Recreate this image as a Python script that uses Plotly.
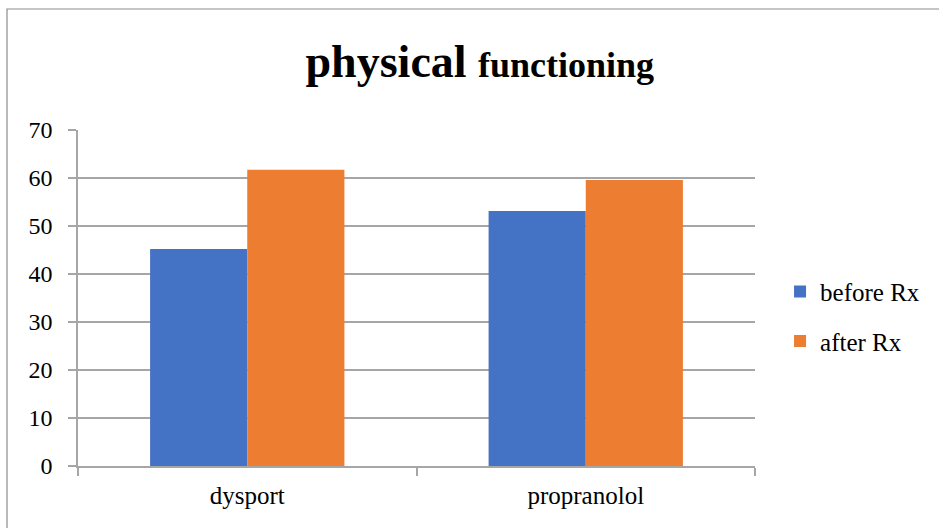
import plotly.graph_objects as go

categories = ["dysport", "propranolol"]
before_rx = [45.2, 53.1]
after_rx = [61.7, 59.6]
y_ticks = [0, 10, 20, 30, 40, 50, 60, 70]

FONT = "Liberation Serif"
GRID = "#a6a6a6"

fig = go.Figure()
fig.add_trace(go.Bar(name="before Rx", x=categories, y=before_rx,
                     marker=dict(color="#4472C4", line=dict(width=0)),
                     legendgroup="a"))
fig.add_trace(go.Bar(name="after Rx", x=categories, y=after_rx,
                     marker=dict(color="#ED7D31", line=dict(width=0)),
                     legendgroup="b"))

fig.update_layout(
    width=939, height=528,
    margin=dict(l=78, r=184, t=130, b=62),
    paper_bgcolor="white", plot_bgcolor="white",
    barmode="group", bargap=0.426, bargroupgap=0,
    font=dict(family=FONT, color="#000000", size=24),
    title=dict(
        text="<b>physical</b> <b><span style='font-size:36px'>functioning</span></b>",
        font=dict(family=FONT, size=46, color="#000000"),
        x=0.511, xref="container", xanchor="center",
        y=0.885, yref="container", yanchor="middle",
    ),
    legend=dict(
        x=1.037, xanchor="left", y=0.446, yanchor="middle",
        font=dict(family=FONT, size=25), tracegroupgap=14,
        itemwidth=30, bgcolor="rgba(0,0,0,0)",
    ),
    xaxis=dict(
        showline=True, linecolor=GRID, linewidth=1.5,
        ticks="outside", tickson="boundaries", ticklen=8,
        tickcolor=GRID, tickwidth=1.5, ticklabelstandoff=6,
        tickfont=dict(family=FONT, size=25), showgrid=False,
    ),
    yaxis=dict(
        range=[0, 70], tickvals=y_ticks,
        showline=True, linecolor=GRID, linewidth=1.5,
        ticks="outside", ticklen=8, tickcolor=GRID, tickwidth=1.5,
        ticklabelstandoff=11,
        showgrid=True, gridcolor=GRID, gridwidth=1.5,
        zeroline=False, tickfont=dict(family=FONT, size=24),
    ),
    shapes=[dict(type="rect", xref="paper", yref="paper",
                 x0=-71 / 677, x1=1.5, y0=-0.5, y1=1 + 121 / 336,
                 line=dict(color="#8c8c8c", width=1.2),
                 fillcolor="rgba(0,0,0,0)", layer="below")],
)

fig.write_html("out.html")
